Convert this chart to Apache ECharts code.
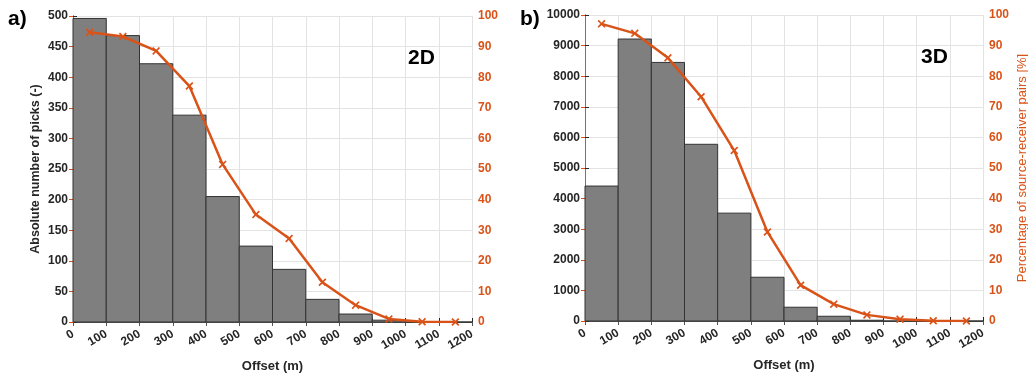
<!DOCTYPE html>
<html>
<head>
<meta charset="utf-8">
<script src="https://cdn.jsdelivr.net/npm/echarts@6/dist/echarts.min.js"></script>
<style>
  html, body { margin: 0; padding: 0; background: #fff; }
  #main { width: 1028px; height: 376px; }
</style>
</head>
<body>
<div id="main"></div>
<script>
// offset bins (m): each bar covers [start, start + 100)
var binStart = [0, 100, 200, 300, 400, 500, 600, 700, 800, 900, 1000, 1100];
var binCenter = [50, 150, 250, 350, 450, 550, 650, 750, 850, 950, 1050, 1150];

// 2D survey
var picks2D = [496, 468, 422, 338, 205, 124, 86, 37, 13, 3, 0, 0];
var pairs2D = [94.7, 93.3, 88.6, 77.1, 51.5, 35.1, 27.3, 13.0, 5.5, 1.0, 0.1, 0];

// 3D survey
var picks3D = [4410, 9215, 8450, 5775, 3525, 1430, 450, 155, 25, 0, 0, 0];
var pairs3D = [97.1, 94.0, 86.0, 73.3, 55.7, 29.1, 11.7, 5.5, 2.0, 0.6, 0.1, 0];

var orange = '#d95319';
var dark = '#262626';
var font = 'Liberation Sans';
var xMark = 'path://M1.5,0L5,3.5L8.5,0L10,1.5L6.5,5L10,8.5L8.5,10L5,6.5L1.5,10L0,8.5L3.5,5L0,1.5Z';

var chart = echarts.init(document.getElementById('main'));

function bars(values) {
    var out = [];
    for (var i = 0; i < binStart.length; i++) {
        out.push([binStart[i], binStart[i] + 100, values[i]]);
    }
    return out;
}

function pts(values) {
    var out = [];
    for (var i = 0; i < binCenter.length; i++) {
        out.push([binCenter[i], values[i]]);
    }
    return out;
}

function plain(v) {
    return String(v);
}

function renderBar(params, api) {
    var p0 = api.coord([api.value(0), api.value(2)]);
    var p1 = api.coord([api.value(1), 0]);
    return {
        type: 'rect',
        shape: { x: p0[0], y: p0[1], width: p1[0] - p0[0], height: p1[1] - p0[1] },
        style: { fill: '#7f7f7f', stroke: '#333333', lineWidth: 1 }
    };
}

function bottomAxis(gridIndex) {
    return {
        type: 'value', gridIndex: gridIndex, min: 0, max: 1200, interval: 100,
        name: 'Offset (m)', nameLocation: 'middle', nameGap: 38,
        nameTextStyle: { color: dark, fontWeight: 'bold', fontSize: 13, fontFamily: font },
        axisLine: { show: true, lineStyle: { color: dark } },
        axisTick: { show: true, inside: true, length: 4, lineStyle: { color: dark } },
        axisLabel: { rotate: 30, color: dark, fontWeight: 'bold', fontSize: 12, fontFamily: font, margin: 11, formatter: plain },
        splitLine: { show: true, lineStyle: { color: '#e3e3e3' } }
    };
}

function topAxis(gridIndex) {
    return {
        type: 'value', gridIndex: gridIndex, position: 'top', min: 0, max: 1200, interval: 100,
        axisLine: { show: true, lineStyle: { color: '#555555' } },
        axisTick: { show: true, inside: true, length: 4, lineStyle: { color: '#555555' } },
        axisLabel: { show: false },
        splitLine: { show: false }
    };
}

function leftAxis(gridIndex, max, interval, name) {
    return {
        type: 'value', gridIndex: gridIndex, min: 0, max: max, interval: interval,
        name: name, nameLocation: 'middle', nameGap: 31,
        nameTextStyle: { color: dark, fontWeight: 'bold', fontSize: 12.5, fontFamily: font },
        axisLine: { show: true, lineStyle: { color: dark } },
        axisTick: { show: true, inside: true, length: 4, lineStyle: { color: dark } },
        axisLabel: { color: dark, fontWeight: 'bold', fontSize: 12, fontFamily: font, margin: 5, formatter: plain },
        splitLine: { show: true, lineStyle: { color: '#e3e3e3' } }
    };
}

function rightAxis(gridIndex, name) {
    return {
        type: 'value', gridIndex: gridIndex, position: 'right', min: 0, max: 100, interval: 10,
        name: name, nameLocation: 'middle', nameGap: 33,
        nameTextStyle: { color: orange, fontWeight: 'normal', fontSize: 13, fontFamily: font },
        axisLine: { show: true, lineStyle: { color: orange } },
        axisTick: { show: true, inside: true, length: 4, lineStyle: { color: orange } },
        axisLabel: { color: orange, fontWeight: 'bold', fontSize: 12, fontFamily: font, margin: 6, formatter: plain },
        splitLine: { show: false }
    };
}

function lineSeries(xi, yi, values) {
    return {
        type: 'line', xAxisIndex: xi, yAxisIndex: yi, data: pts(values),
        symbol: xMark, symbolSize: 8, z: 5,
        lineStyle: { color: orange, width: 2.5 },
        itemStyle: { color: orange }
    };
}

var option = {
    animation: false,
    backgroundColor: '#ffffff',
    textStyle: { fontFamily: font },
    grid: [
        { left: 73, top: 16, width: 399, height: 306, containLabel: false, outerBoundsMode: 'none' },
        { left: 585, top: 15, width: 398, height: 306, containLabel: false, outerBoundsMode: 'none' }
    ],
    xAxis: [bottomAxis(0), topAxis(0), bottomAxis(1), topAxis(1)],
    yAxis: [
        leftAxis(0, 500, 50, 'Absolute number of picks (-)'),
        rightAxis(0, ''),
        leftAxis(1, 10000, 1000, ''),
        rightAxis(1, 'Percentage of source-receiver pairs [%]')
    ],
    graphic: [
        { type: 'text', left: 8, top: 9, style: { text: 'a)', fontSize: 21, fontWeight: 'bold', fill: '#000', fontFamily: font } },
        { type: 'text', left: 520, top: 9, style: { text: 'b)', fontSize: 21, fontWeight: 'bold', fill: '#000', fontFamily: font } },
        { type: 'text', left: 408, top: 48, style: { text: '2D', fontSize: 21, fontWeight: 'bold', fill: '#000', fontFamily: font } },
        { type: 'text', left: 921, top: 47, style: { text: '3D', fontSize: 21, fontWeight: 'bold', fill: '#000', fontFamily: font } }
    ],
    series: [
        { type: 'custom', xAxisIndex: 0, yAxisIndex: 0, renderItem: renderBar, data: bars(picks2D), z: 2 },
        lineSeries(0, 1, pairs2D),
        { type: 'custom', xAxisIndex: 2, yAxisIndex: 2, renderItem: renderBar, data: bars(picks3D), z: 2 },
        lineSeries(2, 3, pairs3D)
    ]
};

chart.setOption(option);
</script>
</body>
</html>
